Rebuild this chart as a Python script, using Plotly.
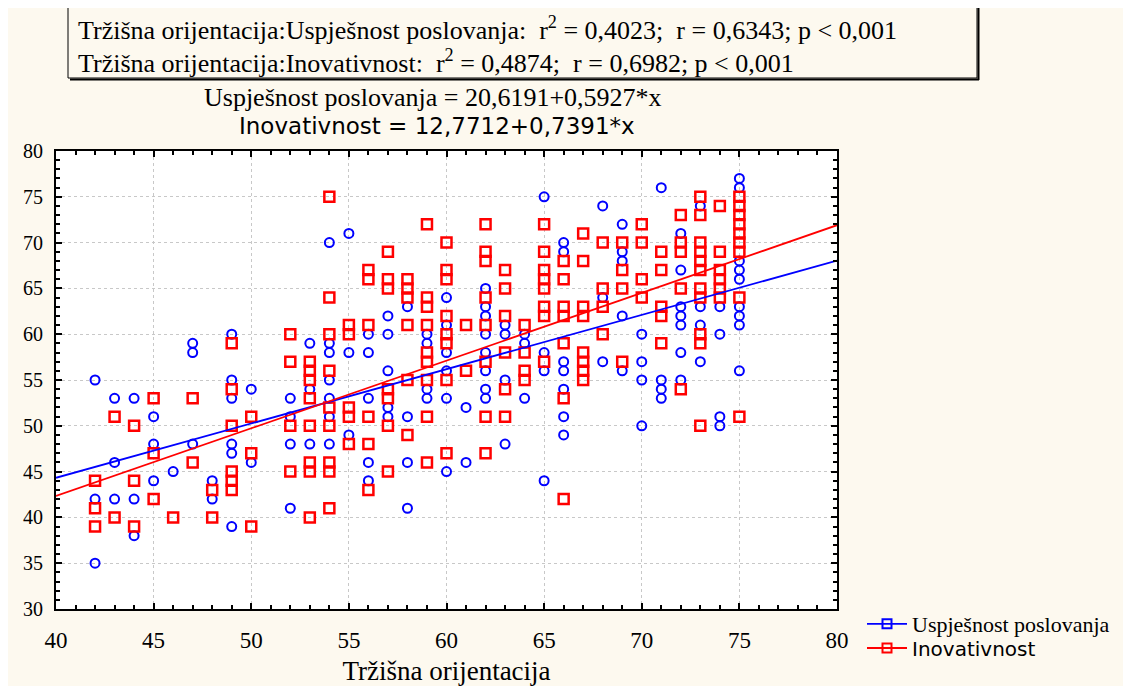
import plotly.graph_objects as go

# ---------------- data ----------------
# x levels of "Tržišna orijentacija" and the y values observed at each level
usp_levels = [42, 43, 44, 45, 46, 47, 48, 49, 50, 52, 53, 54, 55, 56, 57, 58, 59, 60,
              61, 62, 63, 64, 65, 66, 68, 69, 70, 71, 72, 73, 74, 75]
usp_values = [
    [55, 42, 35], [53, 46, 42], [53, 42, 38], [51, 48, 44], [45], [59, 58, 48],
    [44, 42], [60, 55, 53, 48, 47, 39], [54, 46], [53, 51, 48, 41], [59, 54, 48],
    [70, 59, 58, 55, 53, 51, 48], [71, 58, 49], [60, 58, 53, 46, 44],
    [62, 60, 56, 52, 51], [63, 51, 46, 41], [60, 59, 54, 53],
    [64, 61, 58, 56, 53, 45], [52, 46], [65, 63, 62, 60, 58, 56, 54, 53],
    [61, 60, 55, 48], [60, 59, 53], [75, 58, 56, 44], [70, 69, 57, 56, 54, 51, 49],
    [74, 64, 57], [72, 69, 68, 62, 56], [60, 57, 55, 50], [76, 55, 54, 53],
    [71, 67, 63, 62, 61, 58, 55], [74, 63, 61, 57], [63, 60, 51, 50],
    [77, 76, 68, 67, 66, 63, 62, 61, 56],
]

inov_levels = [42, 43, 44, 45, 46, 47, 48, 49, 50, 52, 53, 54, 55, 56, 57, 58, 59, 60,
               61, 62, 63, 64, 65, 66, 67, 68, 69, 70, 71, 72, 73, 74, 75]
inov_values = [
    [44, 41, 39], [51, 40], [50, 44, 39], [53, 47, 42], [40], [53, 46], [43, 40],
    [59, 54, 50, 45, 44, 43], [51, 47, 39], [60, 57, 50, 45],
    [57, 56, 55, 53, 50, 46, 45, 40], [75, 64, 60, 56, 52, 50, 46, 45, 41],
    [61, 60, 52, 51, 48], [67, 66, 61, 51, 48, 43], [69, 66, 65, 54, 53, 50, 45],
    [66, 65, 64, 61, 55, 49], [72, 64, 63, 61, 58, 57, 55, 51, 46],
    [70, 67, 66, 62, 60, 59, 55, 47], [61, 56], [72, 69, 68, 64, 61, 57, 51, 47],
    [67, 65, 62, 58, 54, 51], [61, 58, 56, 55], [72, 69, 67, 66, 65, 63, 62, 57],
    [68, 66, 63, 62, 59, 53, 42], [71, 68, 63, 62, 58, 57, 56, 55], [70, 65, 63, 60],
    [70, 67, 65, 57], [72, 70, 66, 64], [69, 67, 63, 62, 59], [73, 70, 69, 65, 54],
    [75, 73, 70, 69, 68, 67, 65, 64, 60, 59, 50], [74, 69, 67, 66, 65, 64],
    [75, 74, 73, 72, 71, 70, 69, 64, 51],
]

# regression equations printed on the chart
usp_intercept, usp_slope = 20.6191, 0.5927
inov_intercept, inov_slope = 12.7712, 0.7391

x_range = [40, 80]
y_range = [30, 80]
tick_step = 5

series_names = ["Uspješnost poslovanja", "Inovativnost"]
x_title = "Tržišna orijentacija"
stat_lines = [
    "Tržišna orijentacija:Uspješnost poslovanja:  r<sup>2</sup> = 0,4023;  r = 0,6343; p &lt; 0,001",
    "Tržišna orijentacija:Inovativnost:  r<sup>2</sup> = 0,4874;  r = 0,6982; p &lt; 0,001",
]
eq_lines = ["Uspješnost poslovanja = 20,6191+0,5927*x", "Inovativnost = 12,7712+0,7391*x"]

# ---------------- build ----------------
def flatten(levels, values):
    xs, ys = [], []
    for lv, vals in zip(levels, values):
        for v in vals:
            xs.append(lv)
            ys.append(v)
    return xs, ys

usp_x, usp_y = flatten(usp_levels, usp_values)
inov_x, inov_y = flatten(inov_levels, inov_values)

BLUE = "#0000ff"
RED = "#ff0000"
SERIF = "Liberation Serif"
SANS = "DejaVu Sans"
BG = "#fdf9ef"

OFF = 8  # page body margin of the browser
W, H = 1131 - OFF, 686 - OFF
# plot area in page pixels (as in the reference)
PL, PR, PT, PB = 56, 837, 151, 609
L, R, T, B = PL - OFF, PR - OFF, PT - OFF, PB - OFF


def xp(px):
    return (px - PL) / (PR - PL)


def yp(py):
    return (PB - py) / (PB - PT)


fig = go.Figure()

fig.add_trace(go.Scatter(
    x=usp_x, y=usp_y, mode="markers", showlegend=False,
    marker=dict(symbol="circle-open", size=9, color=BLUE, line=dict(width=2, color=BLUE)),
))
fig.add_trace(go.Scatter(
    x=inov_x, y=inov_y, mode="markers", showlegend=False,
    marker=dict(symbol="square-open", size=10, color=RED, line=dict(width=2.5, color=RED)),
))
fig.add_trace(go.Scatter(
    x=x_range, y=[usp_intercept + usp_slope * v for v in x_range], mode="lines",
    line=dict(color=BLUE, width=1.8), showlegend=False, hoverinfo="skip",
))
fig.add_trace(go.Scatter(
    x=x_range, y=[inov_intercept + inov_slope * v for v in x_range], mode="lines",
    line=dict(color=RED, width=1.8), showlegend=False, hoverinfo="skip",
))
# legend entries (line + marker), one legend each so that rows sit as in the reference
fig.add_trace(go.Scatter(
    x=[None], y=[None], mode="lines+markers", name=series_names[0], legend="legend",
    line=dict(color=BLUE, width=1.8),
    marker=dict(symbol="square-open", size=9, color=BLUE, line=dict(width=2, color=BLUE)),
))
fig.add_trace(go.Scatter(
    x=[None], y=[None], mode="lines+markers", name=series_names[1], legend="legend2",
    line=dict(color=RED, width=1.8),
    marker=dict(symbol="square-open", size=9, color=RED, line=dict(width=2, color=RED)),
))

axis_common = dict(
    showline=True, linecolor="black", linewidth=2, mirror="allticks",
    ticks="inside", ticklen=6, tickwidth=2, tickcolor="black",
    showgrid=True, gridcolor="#c8c8c8", gridwidth=1, griddash="dot",
    zeroline=False, dtick=tick_step,
    minor=dict(ticks="inside", ticklen=4, tickwidth=1.5, tickcolor="black", dtick=1, showgrid=False),
)

fig.update_xaxes(range=x_range, tick0=x_range[0],
                 tickfont=dict(family=SERIF, size=23, color="black"),
                 title=dict(text=x_title, font=dict(family=SERIF, size=27, color="black"), standoff=16),
                 ticklabelstandoff=9, **axis_common)
fig.update_yaxes(range=y_range, tick0=y_range[0],
                 tickfont=dict(family=SERIF, size=20, color="black"),
                 ticklabelstandoff=7, **axis_common)

annotations = [
    dict(text=stat_lines[0], x=xp(76), y=yp(29), xanchor="left", yanchor="middle",
         font=dict(family=SERIF, size=26, color="black")),
    dict(text=stat_lines[1], x=xp(76), y=yp(61), xanchor="left", yanchor="middle",
         font=dict(family=SERIF, size=26, color="black")),
    dict(text=eq_lines[0], x=xp(433), y=yp(97), xanchor="center", yanchor="middle",
         font=dict(family=SERIF, size=26, color="black")),
    dict(text=eq_lines[1], x=xp(437), y=yp(126), xanchor="center", yanchor="middle",
         font=dict(family=SANS, size=23, color="black")),
]
for a in annotations:
    a.update(xref="paper", yref="paper", showarrow=False)

shapes = [
    # text box
    dict(type="line", x0=xp(68), x1=xp(68), y0=yp(-12), y1=yp(78), line=dict(color="black", width=1)),
    dict(type="line", x0=xp(68), x1=xp(977), y0=yp(78), y1=yp(78), line=dict(color="black", width=1)),
    dict(type="line", x0=xp(977), x1=xp(977), y0=yp(-12), y1=yp(78), line=dict(color="black", width=1)),
    # shadow
    dict(type="line", x0=xp(70), x1=xp(979), y0=yp(79.5), y1=yp(79.5), line=dict(color="black", width=2)),
    dict(type="line", x0=xp(978.5), x1=xp(978.5), y0=yp(-12), y1=yp(80), line=dict(color="black", width=2)),
]
for s in shapes:
    s.update(xref="paper", yref="paper", layer="above")

fig.update_layout(
    width=W, height=H, autosize=False,
    margin=dict(l=L, r=W - R, t=T, b=H - B, pad=0, autoexpand=False),
    paper_bgcolor=BG, plot_bgcolor="white",
    annotations=annotations, shapes=shapes,
    legend=dict(x=xp(862), y=yp(624), xanchor="left", yanchor="middle",
                bgcolor="rgba(0,0,0,0)", font=dict(family=SERIF, size=22, color="black"),
                itemwidth=40),
    legend2=dict(x=xp(862), y=yp(648), xanchor="left", yanchor="middle",
                 bgcolor="rgba(0,0,0,0)", font=dict(family=SANS, size=20, color="black"),
                 itemwidth=40),
)

fig.write_html("out.html")
